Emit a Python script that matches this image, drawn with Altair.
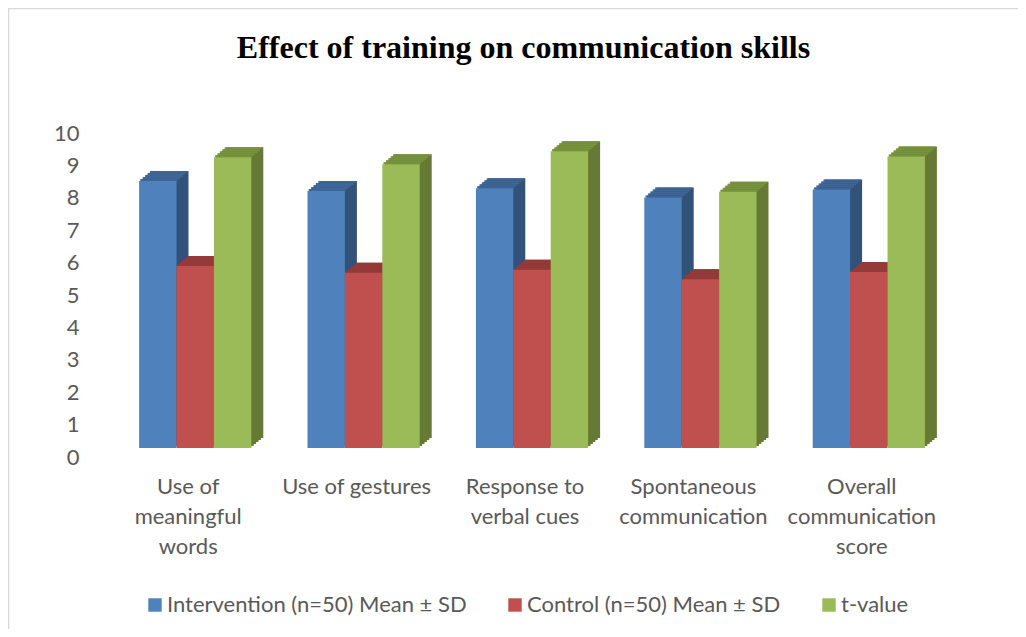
import json
import altair as alt
import pandas as pd

# ---------------- data ----------------
title_text = "Effect of training on communication skills"
categories = [
    "Use of meaningful words",
    "Use of gestures",
    "Response to verbal cues",
    "Spontaneous communication",
    "Overall communication score",
]
label_lines = {
    "Use of meaningful words": ["Use of", "meaningful", "words"],
    "Use of gestures": ["Use of gestures"],
    "Response to verbal cues": ["Response to", "verbal cues"],
    "Spontaneous communication": ["Spontaneous", "communication"],
    "Overall communication score": ["Overall", "communication", "score"],
}
series = ["Intervention (n=50) Mean ± SD", "Control (n=50) Mean ± SD", "t-value"]
intervention = [8.24, 7.93, 8.02, 7.73, 7.98]
control = [5.62, 5.41, 5.50, 5.21, 5.43]
t_value = [8.97, 8.76, 9.16, 7.91, 9.00]
y_ticks = list(range(0, 11))

# ---------------- styles ----------------
front_colors = ["#4F81BD", "#C0504D", "#9BBB59"]
top_colors = ["#3E6596", "#943A38", "#77933C"]
side_colors = ["#32527A", "#8A3735", "#667A35"]
TEXT = "#595959"
FONT = "Lato"
FS = 22

BAR_W = 37.4      # px width of each front face
DX, DY = 12, 10   # 3-D depth in px
N = 5             # slices used to approximate the slanted faces
BASE_Y = -9       # floor of the front faces sits above the 0 label
GROUP_SHIFT = 7
series_dx = [GROUP_SHIFT - BAR_W, GROUP_SHIFT, GROUP_SHIFT + BAR_W]

rows = []
for i, c in enumerate(categories):
    for s, vals in zip(series, [intervention, control, t_value]):
        rows.append({"category": c, "series": s, "value": vals[i]})
df = pd.DataFrame(rows)

label_expr = json.dumps(label_lines, ensure_ascii=False) + "[datum.value]"

x_enc = alt.X(
    "category:N",
    sort=categories,
    scale=alt.Scale(paddingInner=0, paddingOuter=0),
    axis=alt.Axis(
        title=None, domain=False, ticks=False, tickSize=0, grid=False,
        labelAngle=0, labelAlign="center", labelBaseline="top",
        labelFont=FONT, labelFontSize=FS, labelColor=TEXT,
        labelPadding=19, labelLineHeight=30, labelLimit=400,
        labelOverlap=False, labelExpr=label_expr,
    ),
)
y_enc = alt.Y(
    "value:Q",
    scale=alt.Scale(domain=[0, 10], nice=False, zero=True),
    axis=alt.Axis(
        title=None, values=y_ticks, domain=False, ticks=False, tickSize=0,
        grid=False, labelFont=FONT, labelFontSize=FS, labelColor=TEXT,
        labelPadding=25,
    ),
)

base = alt.Chart(df)
layers = []

one = pd.DataFrame({"k": [0]})

# outer frame of the chart
frame = alt.Chart(one).mark_rect(
    fillOpacity=0, stroke="#D9D9D9", strokeWidth=1.3
).encode(
    x=alt.value(-95.4), x2=alt.value(1000),
    y=alt.value(-124.4), y2=alt.value(700),
)
layers.append(frame)

# chart title
title = alt.Chart(one).mark_text(
    text=title_text, font="Liberation Serif", fontSize=32, fontWeight="bold",
    color="black", align="center", baseline="alphabetic",
).encode(x=alt.value(419.5), y=alt.value(-75))
layers.append(title)

# side faces (back to front)
for si, s in enumerate(series):
    for k in range(N, 0, -1):
        off = BASE_Y - DY * k / N
        layers.append(
            base.transform_filter(alt.datum.series == s)
            .mark_bar(
                width=BAR_W, color=side_colors[si],
                xOffset=series_dx[si] + DX * k / N,
                yOffset=off, y2Offset=off,
            )
            .encode(x=x_enc, y=y_enc, y2=alt.datum(0))
        )

# top faces
for si, s in enumerate(series):
    for k in range(1, N + 1):
        layers.append(
            base.transform_filter(alt.datum.series == s)
            .mark_bar(
                width=BAR_W, color=top_colors[si],
                xOffset=series_dx[si] + DX * (k - 0.5) / N,
                yOffset=BASE_Y - DY * k / N,
                y2Offset=BASE_Y - DY * (k - 1) / N,
            )
            .encode(x=x_enc, y=y_enc, y2=alt.Y2("value:Q"))
        )

# front faces
color_enc = alt.Color(
    "series:N",
    sort=series,
    scale=alt.Scale(domain=series, range=front_colors),
    legend=alt.Legend(
        title=None, orient="none", legendX=40, legendY=461,
        direction="horizontal", symbolType="square", symbolSize=180,
        symbolStrokeWidth=0, labelFont=FONT, labelFontSize=FS,
        labelColor=TEXT, labelLimit=500, columnPadding=37, labelOffset=1,
    ),
)
for si, s in enumerate(series):
    layers.append(
        base.transform_filter(alt.datum.series == s)
        .mark_bar(
            width=BAR_W, xOffset=series_dx[si],
            yOffset=BASE_Y, y2Offset=BASE_Y,
        )
        .encode(x=x_enc, y=y_enc, y2=alt.datum(0), color=color_enc)
    )

chart = (
    alt.layer(*layers)
    .properties(
        width=842,
        height=324,
        autosize=alt.AutoSizeParams(type="none"),
        padding={"left": 96, "top": 125, "right": 72, "bottom": 172},
        background="white",
    )
    .configure_view(strokeWidth=0)
)

chart.save("out.html", embed_options={"renderer": "svg", "actions": False})
